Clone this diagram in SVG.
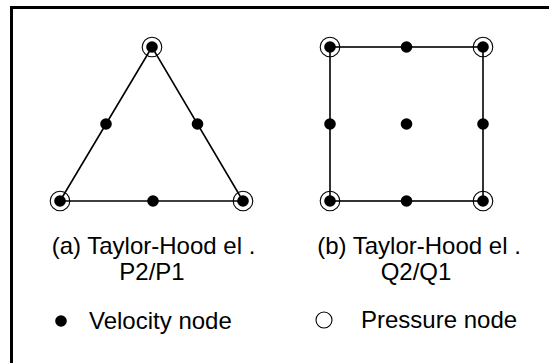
<svg xmlns="http://www.w3.org/2000/svg" width="549" height="363" viewBox="0 0 549 363">
<style>
.edge{stroke:#000;stroke-width:1.6;fill:none}
.v{fill:#000}
.p{fill:none;stroke:#000;stroke-width:1.1}
.t{font-family:"Liberation Sans",Arial,sans-serif;font-size:24px;fill:#000}
</style>
<rect x="0" y="0" width="549" height="363" fill="#fff"/>
<rect x="11.5" y="7.5" width="620" height="420" fill="none" stroke="#000" stroke-width="3"/>
<g id="connectors">
<polygon class="edge" points="152,47 60,201 243,201"/>
<rect class="edge" x="330" y="47" width="153" height="154"/>
</g>
<g id="tri-a"><circle class="p" cx="152" cy="47" r="9.8"/><circle class="v" cx="152" cy="47" r="5.8"/></g>
<g id="tri-b"><circle class="p" cx="60" cy="201" r="9.8"/><circle class="v" cx="60" cy="201" r="5.8"/></g>
<g id="tri-c"><circle class="p" cx="243" cy="201" r="9.8"/><circle class="v" cx="243" cy="201" r="5.8"/></g>
<g id="tri-ab"><circle class="v" cx="106" cy="124" r="5.8"/></g>
<g id="tri-ac"><circle class="v" cx="197.5" cy="124" r="5.8"/></g>
<g id="tri-bc"><circle class="v" cx="153" cy="201" r="5.8"/></g>
<g id="sq-tl"><circle class="p" cx="330" cy="47" r="9.8"/><circle class="v" cx="330" cy="47" r="5.8"/></g>
<g id="sq-tr"><circle class="p" cx="483" cy="47" r="9.8"/><circle class="v" cx="483" cy="47" r="5.8"/></g>
<g id="sq-bl"><circle class="p" cx="330" cy="201" r="9.8"/><circle class="v" cx="330" cy="201" r="5.8"/></g>
<g id="sq-br"><circle class="p" cx="483" cy="201" r="9.8"/><circle class="v" cx="483" cy="201" r="5.8"/></g>
<g id="sq-t"><circle class="v" cx="406.5" cy="47" r="5.8"/></g>
<g id="sq-b"><circle class="v" cx="406.5" cy="201" r="5.8"/></g>
<g id="sq-l"><circle class="v" cx="330" cy="124" r="5.8"/></g>
<g id="sq-r"><circle class="v" cx="483" cy="124" r="5.8"/></g>
<g id="sq-c"><circle class="v" cx="406.5" cy="124" r="5.8"/></g>
<g id="caption-a">
<text class="t" x="153.5" y="254" text-anchor="middle">(a) Taylor-Hood el .</text>
<text class="t" x="152" y="280" text-anchor="middle">P2/P1</text>
</g>
<g id="caption-b">
<text class="t" x="419" y="254" text-anchor="middle">(b) Taylor-Hood el .</text>
<text class="t" x="416" y="280" text-anchor="middle">Q2/Q1</text>
</g>
<g id="legend-velocity">
<circle class="v" cx="61" cy="321" r="5.8"/>
<text class="t" x="89" y="329">Velocity node</text>
</g>
<g id="legend-pressure">
<circle class="p" cx="324" cy="320" r="8"/>
<text class="t" x="361" y="328">Pressure node</text>
</g>
</svg>
